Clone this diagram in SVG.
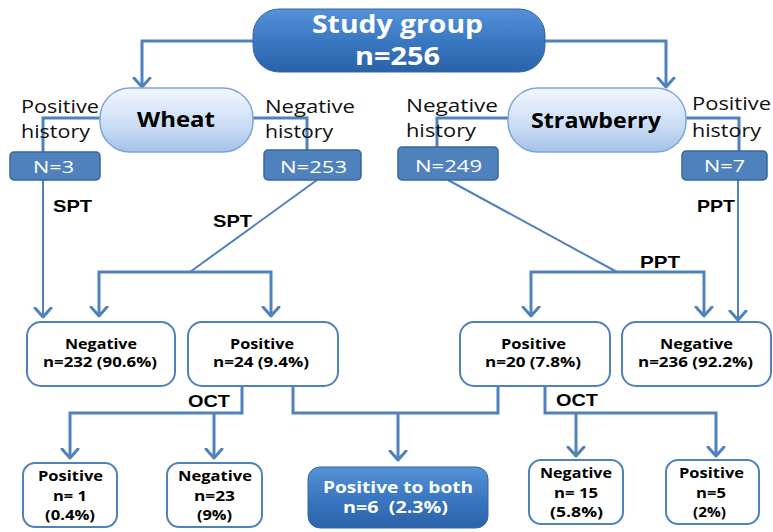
<svg xmlns="http://www.w3.org/2000/svg" width="773" height="532" viewBox="0 0 773 532">
<defs>
<linearGradient id="gDark" x1="0" y1="0" x2="0" y2="1">
<stop offset="0" stop-color="#5592d8"/>
<stop offset="0.5" stop-color="#3b78c2"/>
<stop offset="1" stop-color="#2a62a8"/>
</linearGradient>
<linearGradient id="gLight" x1="0" y1="0" x2="0" y2="1">
<stop offset="0" stop-color="#f2f7fd"/>
<stop offset="0.6" stop-color="#c9dcf4"/>
<stop offset="1" stop-color="#a4c2ea"/>
</linearGradient>
<marker id="arr" viewBox="-10 -10 12 20" markerWidth="12" markerHeight="20" refX="0" refY="0" orient="auto" markerUnits="userSpaceOnUse">
<path d="M-9,-8 L0,0 L-9,8" fill="none" stroke="#4f81bd" stroke-width="3" stroke-linecap="round" stroke-linejoin="round"/>
</marker>
<style>
.ln{fill:none;stroke:#4f81bd;stroke-width:3;stroke-linejoin:miter}
.thin{fill:none;stroke:#4f81bd;stroke-width:2}
.dark{fill:url(#gDark);stroke:#3567a6;stroke-width:1}
.nbox{fill:#4f81bd;stroke:#3a659b;stroke-width:1.5}
.light{fill:url(#gLight);stroke:#7ea6d8;stroke-width:1.5}
.wbox{fill:#ffffff;stroke:#4f81bd;stroke-width:2}
text{font-family:"Open Sans","Liberation Sans",sans-serif}
.wt{fill:#ffffff;font-weight:bold}
.nt{fill:#ffffff;font-size:17px}
.bt{fill:#000000;font-weight:bold}
.sm{font-size:14px}
.pl{fill:#111111;font-size:18px}
.lab{fill:#000000;font-weight:bold;font-size:17px;font-family:"Liberation Sans",sans-serif}
</style>
</defs>

<g id="connectors">
<path class="ln" d="M253,41 H142 V87" marker-end="url(#arr)"/>
<path class="ln" d="M545,41 H666 V87" marker-end="url(#arr)"/>
<path class="ln" d="M100,118 H43 V152"/>
<path class="ln" d="M253,118 H307 V151"/>
<path class="ln" d="M508,118 H437 V148"/>
<path class="ln" d="M686,118 H739 V151"/>
<path class="thin" d="M43,180 V317" marker-end="url(#arr)"/>
<path class="thin" d="M317,180 L190,272"/>
<path class="ln" d="M190,272 H99 V316" marker-end="url(#arr)"/>
<path class="ln" d="M190,272 H271 V316" marker-end="url(#arr)"/>
<path class="thin" d="M448,180 L617,272"/>
<path class="ln" d="M617,272 H531 V316" marker-end="url(#arr)"/>
<path class="ln" d="M617,272 H704 V316" marker-end="url(#arr)"/>
<path class="thin" d="M738,180 V320" marker-end="url(#arr)"/>
<path class="ln" d="M242,386 V413 H70 V458" marker-end="url(#arr)"/>
<path class="ln" d="M214,413 V458" marker-end="url(#arr)"/>
<path class="ln" d="M293,386 V413 H498 V386"/>
<path class="ln" d="M398,413 V460" marker-end="url(#arr)"/>
<path class="ln" d="M545,386 V413 H716 V456" marker-end="url(#arr)"/>
<path class="ln" d="M576,413 V456" marker-end="url(#arr)"/>
</g>

<g id="labels">
<text class="lab" x="53" y="212" textLength="39" lengthAdjust="spacingAndGlyphs">SPT</text>
<text class="lab" x="213" y="227" textLength="39" lengthAdjust="spacingAndGlyphs">SPT</text>
<text class="lab" x="697" y="212" textLength="38" lengthAdjust="spacingAndGlyphs">PPT</text>
<text class="lab" x="640" y="268" textLength="40" lengthAdjust="spacingAndGlyphs">PPT</text>
<text class="lab" x="188" y="407" textLength="42" lengthAdjust="spacingAndGlyphs">OCT</text>
<text class="lab" x="556" y="406" textLength="42" lengthAdjust="spacingAndGlyphs">OCT</text>
</g>

<g id="study">
<rect class="dark" x="253" y="9" width="292" height="63" rx="26"/>
<text class="wt" x="312" y="33" font-size="25" textLength="171" lengthAdjust="spacingAndGlyphs">Study group</text>
<text class="wt" x="355" y="65" font-size="25" textLength="85" lengthAdjust="spacingAndGlyphs">n=256</text>
</g>

<g id="wheat">
<rect class="light" x="100" y="88" width="153" height="64" rx="30"/>
<text class="bt" x="137" y="127" font-size="21" textLength="78" lengthAdjust="spacingAndGlyphs">Wheat</text>
</g>
<g id="strawberry">
<rect class="light" x="508" y="88" width="178" height="64" rx="30"/>
<text class="bt" x="531" y="128" font-size="21" textLength="130" lengthAdjust="spacingAndGlyphs">Strawberry</text>
</g>

<g id="hist-labels">
<text class="pl" x="21" y="113" textLength="78" lengthAdjust="spacingAndGlyphs">Positive</text>
<text class="pl" x="21" y="138" textLength="69" lengthAdjust="spacingAndGlyphs">history</text>
<text class="pl" x="265" y="113" textLength="90" lengthAdjust="spacingAndGlyphs">Negative</text>
<text class="pl" x="265" y="138" textLength="68" lengthAdjust="spacingAndGlyphs">history</text>
<text class="pl" x="406" y="112" textLength="92" lengthAdjust="spacingAndGlyphs">Negative</text>
<text class="pl" x="406" y="137" textLength="70" lengthAdjust="spacingAndGlyphs">history</text>
<text class="pl" x="692" y="110" textLength="79" lengthAdjust="spacingAndGlyphs">Positive</text>
<text class="pl" x="692" y="137" textLength="69" lengthAdjust="spacingAndGlyphs">history</text>
</g>

<g id="n3">
<rect class="nbox" x="10" y="152" width="90" height="28" rx="4"/>
<text class="nt" x="33" y="173" textLength="41" lengthAdjust="spacingAndGlyphs">N=3</text>
</g>
<g id="n253">
<rect class="nbox" x="264" y="150" width="97" height="30" rx="4"/>
<text class="nt" x="280" y="173" textLength="67" lengthAdjust="spacingAndGlyphs">N=253</text>
</g>
<g id="n249">
<rect class="nbox" x="398" y="147" width="100" height="33" rx="4"/>
<text class="nt" x="415" y="172" textLength="67" lengthAdjust="spacingAndGlyphs">N=249</text>
</g>
<g id="n7">
<rect class="nbox" x="682" y="151" width="85" height="29" rx="4"/>
<text class="nt" x="704" y="172" textLength="41" lengthAdjust="spacingAndGlyphs">N=7</text>
</g>

<g id="wheat-neg">
<rect class="wbox" x="27" y="322" width="148" height="64" rx="14"/>
<text class="bt sm" x="65" y="349" textLength="72" lengthAdjust="spacingAndGlyphs">Negative</text>
<text class="bt sm" x="43" y="367" textLength="114" lengthAdjust="spacingAndGlyphs">n=232 (90.6%)</text>
</g>
<g id="wheat-pos">
<rect class="wbox" x="188" y="322" width="150" height="64" rx="14"/>
<text class="bt sm" x="230" y="349" textLength="64" lengthAdjust="spacingAndGlyphs">Positive</text>
<text class="bt sm" x="213" y="367" textLength="96" lengthAdjust="spacingAndGlyphs">n=24 (9.4%)</text>
</g>
<g id="straw-pos">
<rect class="wbox" x="460" y="322" width="150" height="64" rx="14"/>
<text class="bt sm" x="501" y="349" textLength="65" lengthAdjust="spacingAndGlyphs">Positive</text>
<text class="bt sm" x="485" y="367" textLength="96" lengthAdjust="spacingAndGlyphs">n=20 (7.8%)</text>
</g>
<g id="straw-neg">
<rect class="wbox" x="622" y="322" width="149" height="64" rx="14"/>
<text class="bt sm" x="660" y="349" textLength="73" lengthAdjust="spacingAndGlyphs">Negative</text>
<text class="bt sm" x="638" y="367" textLength="115" lengthAdjust="spacingAndGlyphs">n=236 (92.2%)</text>
</g>

<g id="oct-wheat-pos">
<rect class="wbox" x="23" y="463" width="94" height="64" rx="12"/>
<text class="bt sm" x="38" y="481" textLength="65" lengthAdjust="spacingAndGlyphs">Positive</text>
<text class="bt sm" x="53" y="501" textLength="34" lengthAdjust="spacingAndGlyphs">n= 1</text>
<text class="bt sm" x="45" y="520" textLength="50" lengthAdjust="spacingAndGlyphs">(0.4%)</text>
</g>
<g id="oct-wheat-neg">
<rect class="wbox" x="167" y="463" width="95" height="64" rx="12"/>
<text class="bt sm" x="178" y="481" textLength="74" lengthAdjust="spacingAndGlyphs">Negative</text>
<text class="bt sm" x="194" y="501" textLength="41" lengthAdjust="spacingAndGlyphs">n=23</text>
<text class="bt sm" x="197" y="520" textLength="35" lengthAdjust="spacingAndGlyphs">(9%)</text>
</g>
<g id="both">
<rect class="dark" x="308" y="467" width="180" height="61" rx="12"/>
<text class="wt" x="323" y="493" font-size="16" textLength="150" lengthAdjust="spacingAndGlyphs">Positive to both</text>
<text class="wt" x="343" y="513" font-size="16" textLength="105" lengthAdjust="spacingAndGlyphs">n=6&#160; (2.3%)</text>
</g>
<g id="oct-straw-neg">
<rect class="wbox" x="529" y="460" width="94" height="64" rx="12"/>
<text class="bt sm" x="540" y="478" textLength="72" lengthAdjust="spacingAndGlyphs">Negative</text>
<text class="bt sm" x="554" y="498" textLength="44" lengthAdjust="spacingAndGlyphs">n= 15</text>
<text class="bt sm" x="550" y="517" textLength="53" lengthAdjust="spacingAndGlyphs">(5.8%)</text>
</g>
<g id="oct-straw-pos">
<rect class="wbox" x="666" y="460" width="93" height="64" rx="12"/>
<text class="bt sm" x="679" y="478" textLength="65" lengthAdjust="spacingAndGlyphs">Positive</text>
<text class="bt sm" x="696" y="498" textLength="30" lengthAdjust="spacingAndGlyphs">n=5</text>
<text class="bt sm" x="693" y="517" textLength="33" lengthAdjust="spacingAndGlyphs">(2%)</text>
</g>
</svg>
